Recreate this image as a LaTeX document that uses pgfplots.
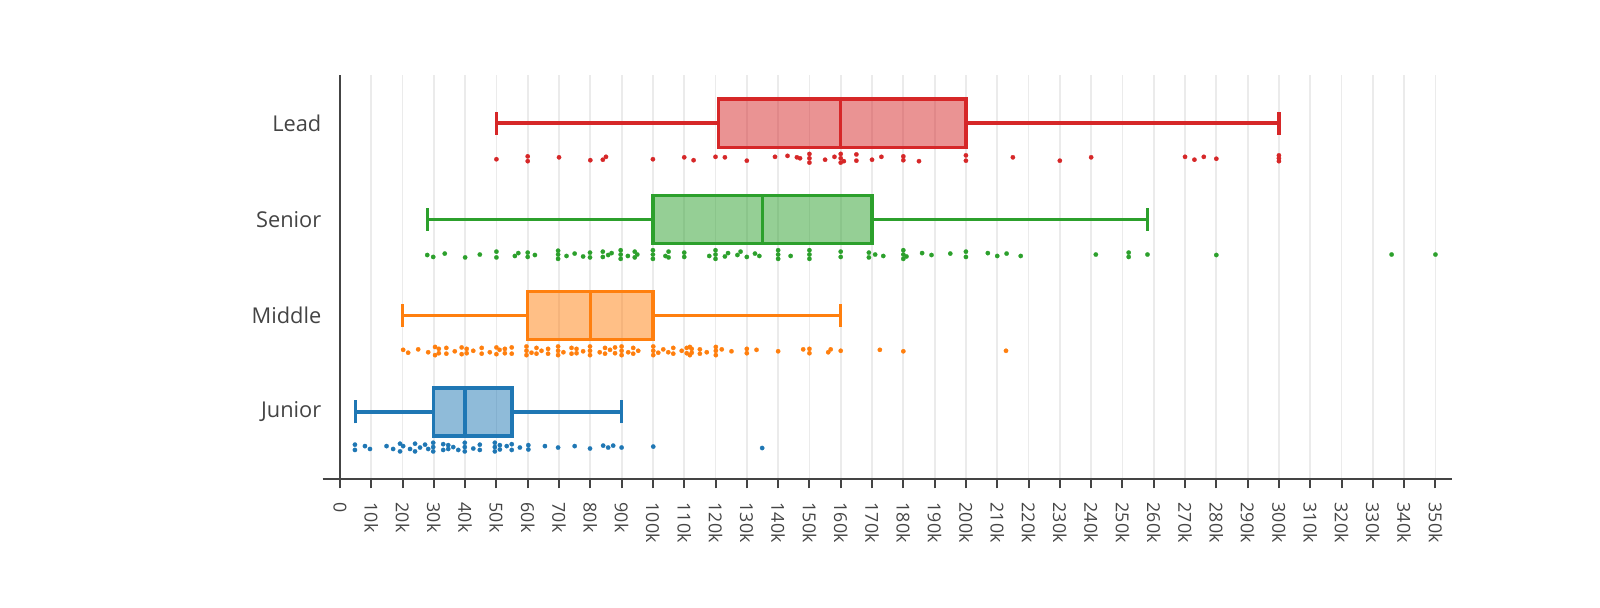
\documentclass[border=0pt]{standalone}
\usepackage{fontspec}
\setmainfont{Open Sans}
\usepackage{pgfplots}
\pgfplotsset{compat=1.18}
\usepgfplotslibrary{statistics}
\definecolor{cblue}{HTML}{1F77B4}
\definecolor{corange}{HTML}{FF7F0E}
\definecolor{cgreen}{HTML}{2CA02C}
\definecolor{cred}{HTML}{D62728}
\definecolor{axgray}{HTML}{444444}
\definecolor{gridgray}{HTML}{EBEBEB}
\pgfplotstableread{
x y
4.8 0.605
4.8 0.66
8 0.645
9.6 0.615
14.9 0.645
17 0.615
19.2 0.59
19.2 0.67
20.2 0.645
22.4 0.615
24 0.59
24 0.67
25.6 0.63
27.2 0.66
28.2 0.615
29.8 0.59
29.8 0.635
29.8 0.68
33 0.605
33 0.665
34.6 0.615
34.6 0.655
36.2 0.635
37.8 0.605
39.9 0.59
39.9 0.635
39.9 0.68
42.6 0.62
44.7 0.605
44.7 0.66
49.5 0.59
49.5 0.635
49.5 0.68
51.1 0.61
51.1 0.655
53.3 0.645
54.9 0.605
54.9 0.665
57.5 0.63
60.2 0.61
60.2 0.655
65.5 0.645
69.7 0.63
75 0.645
79.9 0.62
84.1 0.65
85.7 0.63
87.3 0.65
90 0.63
100.1 0.64
134.9 0.625
}\junior
\pgfplotstableread{
x y
20.2 1.645
21.8 1.615
25 1.65
28.2 1.62
30.4 1.59
30.4 1.675
31.6 1.61
31.6 1.655
34 1.605
34 1.665
36.7 1.63
38.9 1.60
38.9 1.67
40.5 1.61
40.5 1.655
42.6 1.635
45.3 1.605
45.3 1.665
47.9 1.62
50 1.60
50 1.67
51 1.645
52.7 1.61
52.7 1.655
54.9 1.605
54.9 1.67
59.6 1.59
59.6 1.635
59.6 1.68
61.2 1.615
62.8 1.605
62.8 1.665
64.4 1.635
66.5 1.605
66.5 1.655
69.7 1.59
69.7 1.635
69.7 1.68
71.4 1.62
74 1.605
74 1.665
75.6 1.61
75.6 1.655
77.7 1.63
79.9 1.59
79.9 1.635
79.9 1.68
83 1.62
84.7 1.605
84.7 1.665
86.3 1.645
87.9 1.61
87.9 1.67
90 1.59
90 1.635
90 1.68
92.1 1.62
93.7 1.605
93.7 1.665
95.3 1.635
100.1 1.59
100.1 1.635
100.1 1.68
101.7 1.615
103.3 1.65
104.9 1.62
106.5 1.605
106.5 1.665
109.2 1.635
110.8 1.61
110.8 1.665
111.8 1.59
111.8 1.675
112.4 1.615
112.4 1.655
115 1.605
115 1.65
117.2 1.62
120.1 1.59
120.1 1.635
120.1 1.675
122 1.65
125.1 1.63
130 1.61
130 1.655
133.1 1.645
140 1.63
148 1.65
150 1.61
150 1.655
156 1.62
156.8 1.65
160 1.635
172.5 1.645
180 1.63
212.8 1.635
}\middle
\pgfplotstableread{
x y
27.9 2.63
29.8 2.61
33.5 2.645
40 2.605
44.7 2.635
50 2.605
50 2.665
55.9 2.62
57 2.65
60 2.61
60 2.655
62.3 2.63
69.7 2.59
69.7 2.635
69.7 2.675
72.4 2.62
75 2.645
77.7 2.615
79.9 2.605
79.9 2.655
84 2.61
84 2.665
85.7 2.63
86.8 2.65
89.7 2.59
89.7 2.635
89.7 2.68
92 2.62
94.2 2.605
94.2 2.665
95 2.635
100 2.59
100 2.635
100 2.68
104 2.62
105 2.605
105 2.665
110 2.61
110 2.655
118 2.62
120 2.59
120 2.635
120 2.68
123 2.615
124 2.65
127 2.63
128 2.665
130 2.61
132.6 2.645
134 2.62
140 2.59
140 2.635
140 2.68
144 2.62
150 2.59
150 2.635
150 2.68
160 2.61
160 2.665
169 2.605
169 2.655
171 2.635
173.6 2.62
180 2.59
180 2.635
180 2.68
181 2.615
186 2.65
189 2.63
195 2.645
200 2.61
200 2.665
207 2.65
210 2.62
213 2.645
217.5 2.62
241.5 2.635
252 2.61
252 2.655
258 2.635
280 2.63
336 2.635
350 2.635
}\senior
\pgfplotstableread{
x y
50 3.625
60 3.605
60 3.655
70 3.645
80 3.615
84 3.62
85 3.65
100 3.625
110 3.645
113 3.615
120 3.65
123 3.645
130 3.61
139 3.65
143 3.66
146 3.645
147 3.635
150 3.59
150 3.635
150 3.68
155 3.62
158 3.65
160 3.59
160 3.635
160 3.68
161 3.605
165 3.61
165 3.675
170 3.62
173 3.65
180 3.615
180 3.655
185 3.605
200 3.61
200 3.665
215 3.645
230 3.61
240 3.645
270 3.65
273 3.62
276 3.65
280 3.63
300 3.605
300 3.635
300 3.665
}\lead
\begin{document}
\begin{tikzpicture}
\begin{axis}[
  scale only axis, width=564.5pt, height=202.15pt,
  xmin=-5.5, xmax=355.2, ymin=0.3, ymax=4.5,
  axis x line*=bottom, axis y line*=left,
  x axis line style={-, draw=axgray, line width=1pt},
  y axis line style={draw=none},
  xtick={0,10,...,350},
  xticklabels={0,10k,20k,30k,40k,50k,60k,70k,80k,90k,100k,110k,120k,130k,140k,150k,160k,170k,180k,190k,200k,210k,220k,230k,240k,250k,260k,270k,280k,290k,300k,310k,320k,330k,340k,350k},
  xtick style={draw=axgray, line width=1pt},
  ytick style={draw=none},
  tick align=outside, major tick length=4.5pt,
  xticklabel style={rotate=-90, anchor=west, font=\fontsize{8.9}{10}\selectfont, text=axgray, inner sep=0pt},
  xticklabel shift=7pt,
  xmajorgrids, grid style={draw=gridgray, line width=0.9pt},
  ytick={1,2,3,4}, yticklabels={Junior,Middle,Senior,Lead},
  yticklabel style={font=\fontsize{10.9}{12}\selectfont, text=axgray, inner sep=0pt, anchor=east},
  yticklabel shift=-4pt,
  clip=false,
]
\addplot[draw=axgray, line width=1pt] coordinates {(0,0.3) (0,4.5)};
\addplot[boxplot prepared={lower whisker=5, lower quartile=30, median=40, upper quartile=55, upper whisker=90, draw position=1, box extend=0.5, whisker extend=0.24}, draw=cblue, fill=cblue, fill opacity=0.5, draw opacity=1, line width=1.65pt] coordinates {};
\addplot[boxplot prepared={lower whisker=20, lower quartile=60, median=80, upper quartile=100, upper whisker=160, draw position=2, box extend=0.5, whisker extend=0.24}, draw=corange, fill=corange, fill opacity=0.5, draw opacity=1, line width=1.65pt] coordinates {};
\addplot[boxplot prepared={lower whisker=28, lower quartile=100, median=135, upper quartile=170, upper whisker=258, draw position=3, box extend=0.5, whisker extend=0.24}, draw=cgreen, fill=cgreen, fill opacity=0.5, draw opacity=1, line width=1.65pt] coordinates {};
\addplot[boxplot prepared={lower whisker=50, lower quartile=121, median=160, upper quartile=200, upper whisker=300, draw position=4, box extend=0.5, whisker extend=0.24}, draw=cred, fill=cred, fill opacity=0.5, draw opacity=1, line width=1.65pt] coordinates {};
\addplot[only marks, mark=*, mark size=1.1pt, color=cblue, mark options={solid, fill=cblue, draw=cblue, line width=0.1pt}] table[x=x, y=y] {\junior};
\addplot[only marks, mark=*, mark size=1.1pt, color=corange, mark options={solid, fill=corange, draw=corange, line width=0.1pt}] table[x=x, y=y] {\middle};
\addplot[only marks, mark=*, mark size=1.1pt, color=cgreen, mark options={solid, fill=cgreen, draw=cgreen, line width=0.1pt}] table[x=x, y=y] {\senior};
\addplot[only marks, mark=*, mark size=1.1pt, color=cred, mark options={solid, fill=cred, draw=cred, line width=0.1pt}] table[x=x, y=y] {\lead};
\end{axis}
\pgfresetboundingbox
\path (-161.35pt,-63.85pt) rectangle (638.65pt,239.65pt);
\end{tikzpicture}
\end{document}
